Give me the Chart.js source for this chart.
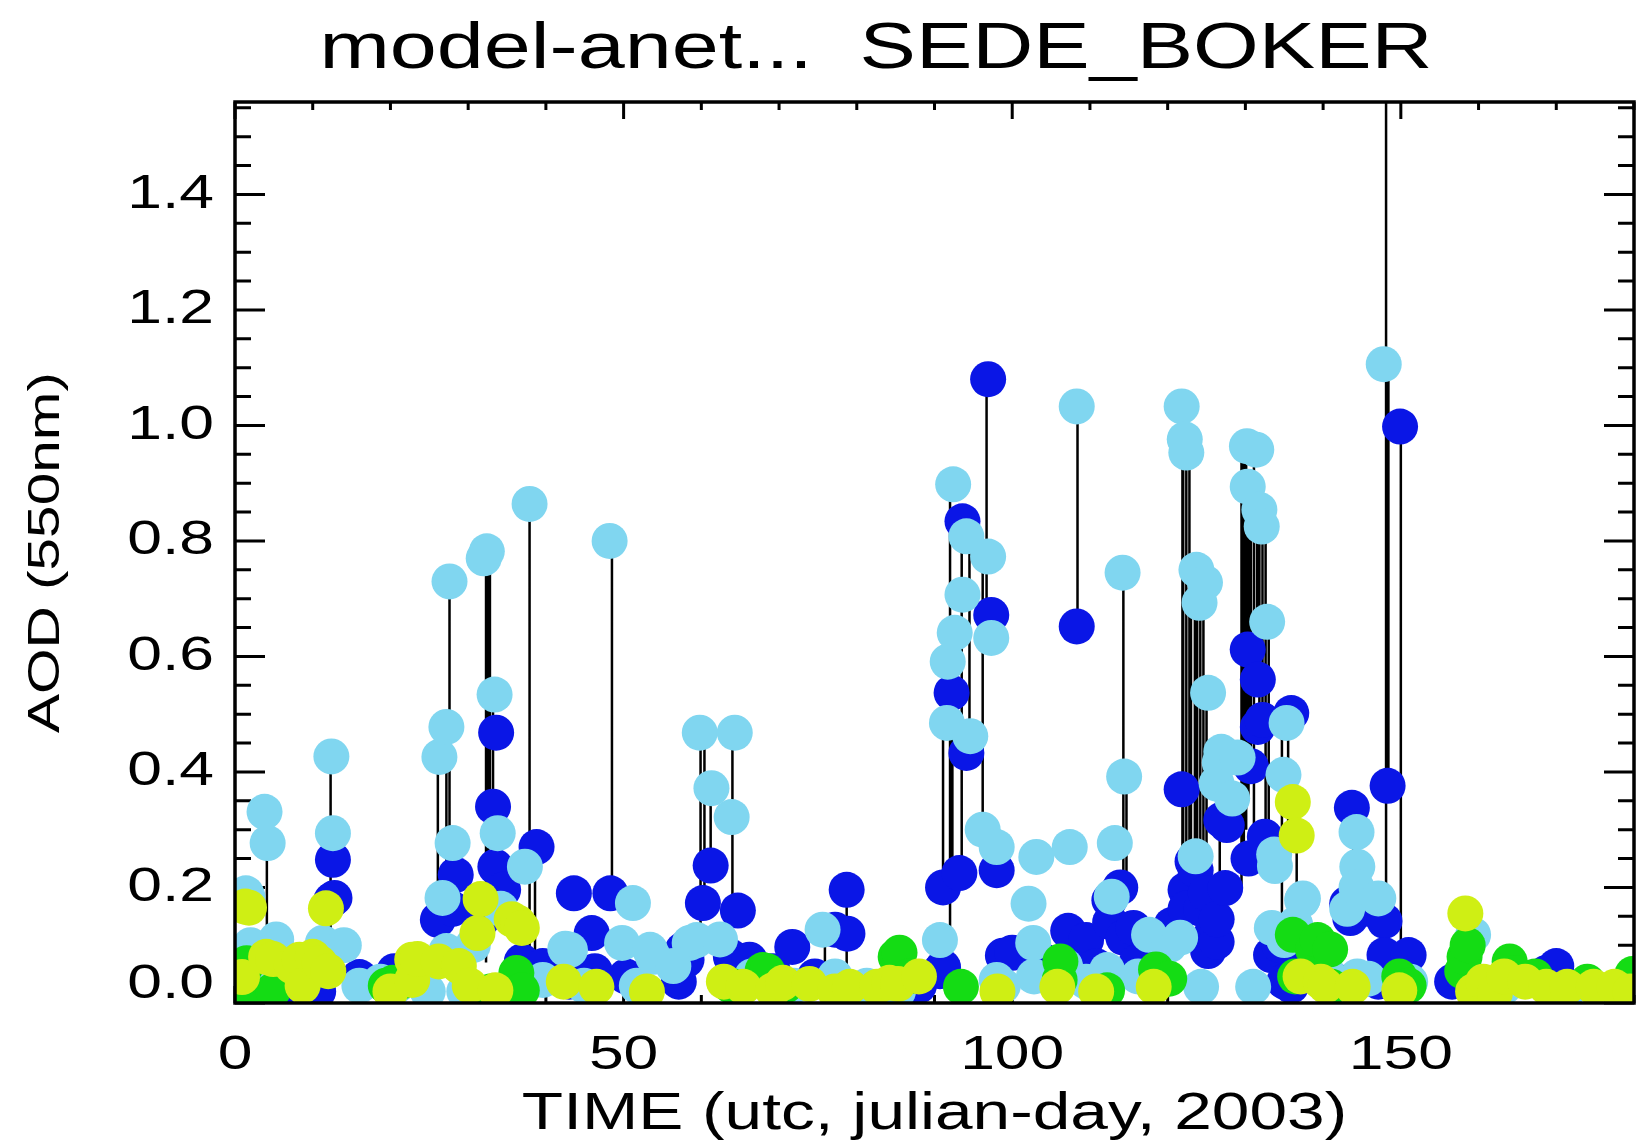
<!DOCTYPE html>
<html lang="en">
<head>
<meta charset="UTF-8">
<title>model-anet... SEDE_BOKER</title>
<script src="https://cdn.jsdelivr.net/npm/chart.js@4"></script>
<style>
    html, body { margin: 0; padding: 0; background: #fff; }
    #wrap { width: 1638px; height: 1148px; }
</style>
</head>
<body>
<div id="wrap"><canvas id="aodChart"></canvas></div>
<script>
// AOD (550nm) at Sede Boker, julian day 2003

// black vertical lines: day, low end, high end
const stemDay  = [4.1, 12.3, 26.1, 27.2, 27.6, 32.3, 32.6, 32.8, 33.2, 37.9, 38.6, 48.5, 59.9, 60.4, 61.2, 64.0, 75.9, 78.7,
                  91.1, 92.0, 92.3, 93.5, 94.5, 96.2, 96.7, 108.4, 114.3, 114.7, 121.9, 122.0, 122.4, 122.8, 123.0,
                  123.5, 123.8, 124.2, 124.6, 125.0, 126.7, 129.5, 129.8, 130.1, 130.4, 130.7, 131.1, 131.5, 131.8,
                  132.2, 132.6, 133.0, 134.7, 135.5, 136.6, 143.9, 148.1, 148.4, 150.0];
const stemLow  = [0.11, 0.13, 0.15, 0.12, 0.27, 0.07, 0.20, 0.30, 0.20, 0.06, 0.05, 0.19, 0.13, 0.17, 0.23, 0.17, 0.06, 0.06,
                  0.21, 0.13, 0.21, 0.24, 0.48, 0.32, 0.67, 0.65, 0.20, 0.21, 0.16, 0.20, 0.20, 0.15, 0.12,
                  0.15, 0.20, 0.12, 0.15, 0.14, 0.15, 0.20, 0.25, 0.30, 0.35, 0.42, 0.30, 0.56, 0.45,
                  0.48, 0.25, 0.30, 0.12, 0.22, 0.20, 0.25, 0.09, 0.38, 0.09];
const stemHigh = [0.33, 0.42, 0.43, 0.48, 0.73, 0.78, 0.78, 0.77, 0.53, 0.86, 0.26, 0.80, 0.46, 0.45, 0.37, 0.46, 0.11, 0.19,
                  0.47, 0.89, 0.64, 0.83, 0.80, 0.77, 1.08, 1.03, 0.74, 0.40, 1.03, 0.98, 0.96, 0.95, 0.75,
                  0.72, 0.72, 0.69, 0.69, 0.54, 0.40, 0.97, 0.96, 0.95, 0.90, 0.90, 0.95, 0.86, 0.85,
                  0.83, 0.82, 0.66, 0.50, 0.48, 0.40, 0.34, 1.75, 1.10, 1.00];

// dark blue
const modelDay = [2.0, 5.3, 10.7, 12.4, 12.6, 12.8, 16.0, 20.5, 22.1, 26.1, 28.0, 28.4, 31.8, 33.2, 33.5, 33.6, 34.5,
                  36.9, 38.8, 39.6, 43.0, 43.6, 45.9, 46.3, 48.3, 50.3, 57.1, 57.6, 58.1, 60.2, 61.2, 63.8, 64.7,
                  66.2, 69.2, 71.7, 74.6, 77.2, 78.7, 78.8, 88.0, 90.7, 91.1, 91.1, 92.2, 93.2, 93.6, 94.1, 96.9,
                  97.3, 98.0, 98.8, 100.0, 104.1, 107.2, 108.3, 109.5, 110.8, 112.5, 112.6, 113.9, 114.3, 115.6,
                  115.6, 116.0, 118.9, 120.5, 121.8, 122.3, 122.3, 123.2, 123.6, 124.3, 124.9, 125.2, 125.6, 126.3,
                  126.3, 126.9, 127.4, 127.6, 130.3, 130.4, 130.7, 131.6, 131.6, 132.2, 132.5, 133.3, 134.4, 135.0,
                  135.9, 135.9, 137.7, 141.8, 143.1, 143.5, 143.7, 145.8, 147.1, 147.9, 147.9, 148.3, 149.9, 151.0,
                  156.6, 158.2, 160.6, 168.7, 170.0];
const modelAod = [0.03, 0.01, 0.02, 0.178, 0.248, 0.182, 0.045, 0.055, 0.046, 0.144, 0.163, 0.222, 0.145, 0.34, 0.236, 0.468, 0.196,
                  0.072, 0.27, 0.064, 0.037, 0.19, 0.121, 0.055, 0.19, 0.046, 0.037, 0.092, 0.075, 0.173, 0.238, 0.08, 0.16,
                  0.075, 0.055, 0.097, 0.046, 0.127, 0.196, 0.12, 0.03, 0.055, 0.2, 0.062, 0.537, 0.225, 0.834, 0.433, 1.08,
                  0.672, 0.23, 0.082, 0.087, 0.072, 0.125, 0.652, 0.109, 0.064, 0.178, 0.14, 0.2, 0.113, 0.13,
                  0.052, 0.07, 0.10, 0.135, 0.37, 0.196, 0.163, 0.245, 0.23, 0.163, 0.19, 0.09, 0.118, 0.106,
                  0.145, 0.317, 0.199, 0.308, 0.612, 0.25, 0.41, 0.56, 0.478, 0.49, 0.288, 0.083, 0.10, 0.037,
                  0.502, 0.03, 0.064, 0.037, 0.172, 0.147, 0.338, 0.163, 0.037, 0.142, 0.083, 0.376, 0.998, 0.083,
                  0.037, 0.042, 0.02, 0.052, 0.064];

// light blue
const anetDay = [1.0, 1.4, 1.6, 2.0, 3.3, 3.8, 4.2, 5.3, 10.0, 11.3, 12.4, 12.6, 14.0, 16.0, 18.7, 20.8, 24.8, 26.3,
                 26.7, 27.2, 27.2, 27.6, 28.0, 29.5, 30.6, 32.0, 32.4, 33.4, 33.8, 34.2, 37.3, 37.9, 39.6, 42.5, 43.1,
                 44.9, 48.2, 49.8, 51.2, 51.7, 53.4, 53.8, 56.4, 58.5, 59.4, 59.8, 61.3, 62.4, 63.9, 64.3, 66.5, 71.9,
                 75.6, 77.2, 81.3, 85.3, 90.7, 91.6, 91.7, 92.4, 92.6, 93.6, 94.1, 94.6, 96.2, 96.9, 97.3, 98.0, 98.0,
                 98.8, 102.1, 102.7, 102.8, 103.1, 106.8, 107.4, 108.3, 109.5, 112.2, 112.5, 112.8, 113.2, 114.2,
                 114.4, 116.2, 117.6, 120.2, 121.6, 121.8, 122.2, 122.4, 123.6, 123.7, 124.1, 124.8, 125.2, 124.3,
                 126.3, 126.7, 126.9, 128.3, 129.0, 130.2, 130.3, 131.4, 131.0, 131.8, 132.1, 132.8, 133.4, 133.7,
                 133.8, 134.9, 135.0, 135.3, 136.4, 137.3, 137.4, 140.4, 143.1, 144.3, 144.4, 144.3, 144.4, 145.8,
                 147.1, 147.8, 151.2, 159.3, 163.3, 171.4];
const anetAod = [0.036, 0.19, 0.184, 0.10, 0.046, 0.331, 0.277, 0.11, 0.055, 0.104, 0.427, 0.294, 0.10, 0.03, 0.037, 0.03, 0.02, 0.426,
                 0.182, 0.478, 0.09, 0.73, 0.277, 0.02, 0.10, 0.77, 0.782, 0.534, 0.294, 0.163, 0.236, 0.864, 0.04, 0.094, 0.092,
                 0.03, 0.80, 0.104, 0.173, 0.03, 0.092, 0.08, 0.064, 0.104, 0.109, 0.468, 0.372, 0.11, 0.322, 0.468, 0.046, 0.03,
                 0.127, 0.046, 0.03, 0.02, 0.109, 0.485, 0.591, 0.898, 0.641, 0.707, 0.808, 0.462, 0.30, 0.773, 0.632, 0.27, 0.04,
                 0.03, 0.172, 0.104, 0.046, 0.253, 0.064, 0.27, 1.033, 0.037, 0.057, 0.047, 0.184, 0.277, 0.745,
                 0.392, 0.046, 0.118, 0.10, 0.113, 1.033, 0.976, 0.953, 0.254, 0.75, 0.693, 0.728, 0.537, 0.028,
                 0.38, 0.416, 0.435, 0.354, 0.425, 0.964, 0.894, 0.958, 0.028, 0.854, 0.825, 0.66, 0.13, 0.257,
                 0.237, 0.395, 0.109, 0.485, 0.136, 0.178, 0.181, 0.055, 0.163, 0.296, 0.236, 0.2, 0.046, 0.042,
                 0.181, 1.106, 0.037, 0.118, 0.028, 0.02];

// green
const greenDay = [1.4, 1.5, 2.0, 4.9, 19.4, 20.3, 21.4, 32.9, 36.2, 36.9, 63.8, 67.9, 68.5, 70.8, 85.0, 85.5, 86.7, 93.4,
                  106.1, 106.2, 112.2, 118.5, 120.2, 136.1, 136.4, 138.7, 139.3, 140.9, 141.1, 149.8, 151.0, 157.9,
                  158.2, 158.6, 164.0, 164.7, 167.3, 174.0, 179.8];
const greenAod = [0.064, 0.069, 0.01, 0.022, 0.03, 0.035, 0.037, 0.02, 0.052, 0.022, 0.03, 0.057, 0.055, 0.03, 0.08, 0.087, 0.046, 0.028,
                  0.04, 0.072, 0.022, 0.058, 0.042, 0.118, 0.046, 0.093, 0.109, 0.093, 0.028, 0.046, 0.03, 0.055,
                  0.08, 0.10, 0.072, 0.052, 0.046, 0.037, 0.05];

// yellow-green
const yellowDay = [0.9, 1.3, 1.8, 4.0, 4.9, 7.3, 8.3, 8.7, 10.0, 10.9, 11.7, 12.0, 20.0, 22.8, 22.8, 23.5, 26.2, 28.8,
                   30.2, 31.2, 31.6, 33.5, 35.6, 36.4, 36.9, 42.3, 46.5, 53.0, 62.9, 65.4, 69.2, 70.5, 73.9, 77.2,
                   79.1, 82.6, 84.2, 85.3, 88.0, 98.1, 105.8, 110.8, 118.2, 136.1, 136.6, 137.1, 139.7, 140.3, 143.8,
                   149.8, 158.3, 159.3, 160.6, 162.1, 163.3, 166.0, 168.7, 171.4, 174.8, 177.5, 179.5];
const yellowAod = [0.045, 0.167, 0.165, 0.08, 0.076, 0.064, 0.075, 0.03, 0.08, 0.069, 0.164, 0.055, 0.02, 0.075, 0.04, 0.076, 0.072, 0.064,
                   0.03, 0.121, 0.18, 0.022, 0.145, 0.139, 0.13, 0.037, 0.028, 0.02, 0.037, 0.028, 0.022, 0.035, 0.033, 0.02,
                   0.028, 0.028, 0.035, 0.033, 0.046, 0.02, 0.028, 0.02, 0.028, 0.348, 0.29, 0.046, 0.037, 0.03, 0.028,
                   0.022, 0.155, 0.02, 0.037, 0.017, 0.046, 0.037, 0.028, 0.028, 0.028, 0.028, 0.02];

const xMajor = [0, 50, 100, 150];
const yMajor = [0.0, 0.2, 0.4, 0.6, 0.8, 1.0, 1.2, 1.4];

const FONT = '"Liberation Sans", Arial, Helvetica, sans-serif';
const STRETCH = 1.3;   // the IDL font is much wider than Helvetica

Chart.defaults.font.family = FONT;
Chart.defaults.color = '#000';

const toPoints = (xs, ys) => xs.map((x, i) => ({ x, y: ys[i] }));

const stemPoints = [];
stemDay.forEach((d, i) => {
    stemPoints.push({ x: d, y: stemLow[i] }, { x: d, y: stemHigh[i] }, { x: d, y: null });
});

const isMajorY = v => yMajor.some(m => Math.abs(m - v) < 1e-6);

// widen all text along its baseline
const wideText = {
    id: 'wideText',
    beforeInit(chart) {
        const ctx = chart.ctx;
        const fill = ctx.fillText.bind(ctx);
        const measure = ctx.measureText.bind(ctx);
        ctx.fillText = (text, x, y, maxWidth) => {
            ctx.save();
            ctx.translate(x, y);
            ctx.scale(STRETCH, 1);
            if (maxWidth === undefined) fill(text, 0, 0);
            else fill(text, 0, 0, maxWidth / STRETCH);
            ctx.restore();
        };
        ctx.measureText = text => {
            const m = measure(text);
            return { width: m.width * STRETCH, actualBoundingBoxAscent: m.actualBoundingBoxAscent,
                     actualBoundingBoxDescent: m.actualBoundingBoxDescent };
        };
    }
};

// IDL style box: inward ticks on all four sides, plus the title
const idlBox = {
    id: 'idlBox',
    beforeDatasetsDraw(chart) {
        const { ctx, chartArea: a, scales: { x, y } } = chart;
        ctx.save();
        ctx.strokeStyle = '#000';
        ctx.lineWidth = 3;
        ctx.beginPath();
        x.ticks.forEach(t => {
            const px = x.getPixelForValue(t.value);
            const len = t.label ? 17 : 8;
            ctx.moveTo(px, a.bottom); ctx.lineTo(px, a.bottom - len);
            ctx.moveTo(px, a.top); ctx.lineTo(px, a.top + len);
        });
        y.ticks.forEach(t => {
            const py = y.getPixelForValue(t.value);
            const len = isMajorY(t.value) ? 30 : 16;
            ctx.moveTo(a.left, py); ctx.lineTo(a.left + len, py);
            ctx.moveTo(a.right, py); ctx.lineTo(a.right - len, py);
        });
        ctx.stroke();
        ctx.restore();
    },
    afterDatasetsDraw(chart) {
        const { ctx, chartArea: a } = chart;
        ctx.save();
        ctx.strokeStyle = '#000';
        ctx.lineWidth = 3.5;
        ctx.strokeRect(a.left, a.top, a.right - a.left, a.bottom - a.top);
        ctx.fillStyle = '#000';
        ctx.font = '65px ' + FONT;
        ctx.textAlign = 'center';
        ctx.textBaseline = 'middle';
        ctx.fillText('model-anet...  SEDE_BOKER', 876, 50);
        ctx.restore();
    }
};

const dot = color => ({
    pointRadius: 18,
    pointBackgroundColor: color,
    pointBorderWidth: 0,
    pointHoverRadius: 18,
    showLine: false
});

new Chart(document.getElementById('aodChart'), {
    type: 'scatter',
    data: {
        datasets: [
            { label: 'yellow', data: toPoints(yellowDay, yellowAod), ...dot('#cfef14') },
            { label: 'green', data: toPoints(greenDay, greenAod), ...dot('#14dc14') },
            { label: 'anet', data: toPoints(anetDay, anetAod), ...dot('#80d6f0') },
            { label: 'model', data: toPoints(modelDay, modelAod), ...dot('#0a16e6') },
            {
                label: 'stems',
                data: stemPoints,
                showLine: true,
                spanGaps: false,
                borderColor: '#000',
                borderWidth: 2.5,
                pointRadius: 0
            }
        ]
    },
    options: {
        responsive: true,
        maintainAspectRatio: false,
        animation: false,
        events: [],
        layout: {
            autoPadding: false,
            padding: { top: 102, right: 4, bottom: 0, left: 0 }
        },
        plugins: {
            legend: { display: false },
            tooltip: { enabled: false },
            title: { display: false }
        },
        scales: {
            x: {
                type: 'linear',
                min: 0,
                max: 180,
                grid: { display: false, drawTicks: false },
                border: { display: false },
                ticks: {
                    stepSize: 10,
                    includeBounds: false,
                    maxRotation: 0,
                    autoSkip: false,
                    padding: 24,
                    font: { size: 48 },
                    callback: v => (xMajor.includes(v) ? String(v) : '')
                },
                title: {
                    display: true,
                    text: 'TIME (utc, julian-day, 2003)',
                    font: { size: 52 },
                    padding: { top: 0, bottom: 2 }
                },
                afterFit: scale => {
                    scale.height = 145;
                    scale.paddingLeft = 0;
                    scale.paddingRight = 0;
                }
            },
            y: {
                type: 'linear',
                min: 0,
                max: 1.56,
                grid: { display: false, drawTicks: false },
                border: { display: false },
                ticks: {
                    stepSize: 0.05,
                    includeBounds: false,
                    autoSkip: false,
                    padding: 21,
                    font: c => ({ size: 48, lineHeight: c.tick && c.tick.value === 0 ? 0.75 : 1.2 }),
                    callback: v => {
                        if (!isMajorY(v)) return '';
                        return v === 0 ? ['0.0', ''] : v.toFixed(1);
                    }
                },
                title: {
                    display: true,
                    text: 'AOD (550nm)',
                    font: { size: 45 },
                    padding: { top: 20, bottom: 0 }
                },
                afterFit: scale => { scale.width = 235; }
            }
        }
    },
    plugins: [wideText, idlBox]
});
</script>
</body>
</html>
